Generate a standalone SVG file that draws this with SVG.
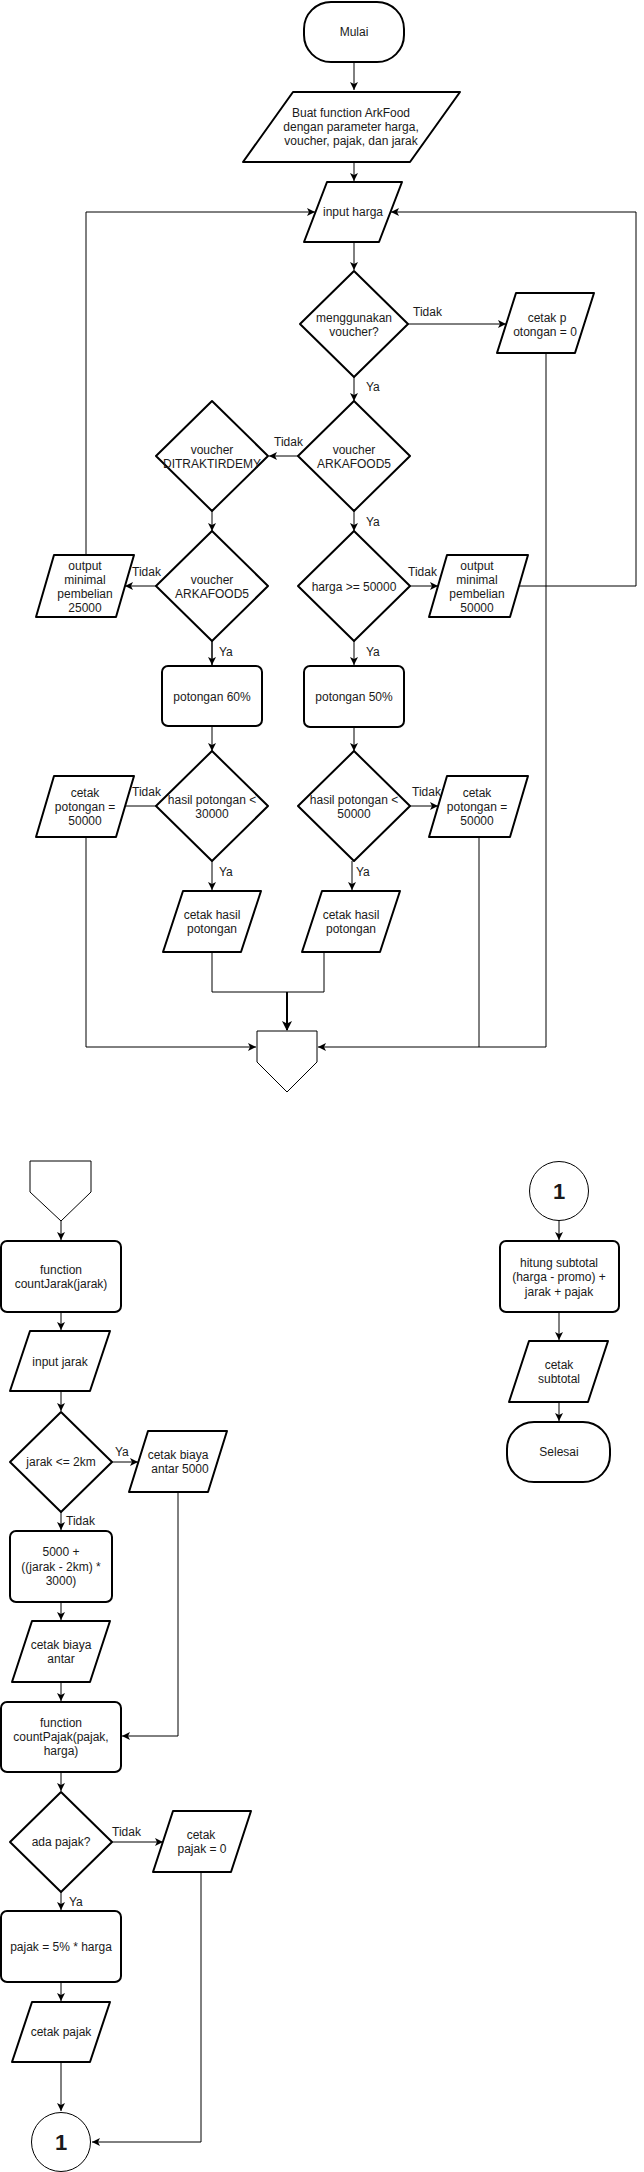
<svg xmlns="http://www.w3.org/2000/svg" width="644" height="2172" viewBox="0 0 644 2172">
<style>
.s{fill:#fff;stroke:#000;stroke-width:2;stroke-linejoin:round}
.t{fill:#fff;stroke:#000;stroke-width:1}
.c{fill:none;stroke:#000;stroke-width:1}
text{font-family:"Liberation Sans",Arial,sans-serif;font-size:12px;fill:#1a1a1a;text-anchor:middle}
.l{text-anchor:start}
.big{font-size:22px;font-weight:bold}
</style>
<defs>
<marker id="a" markerUnits="userSpaceOnUse" markerWidth="10" markerHeight="10" refX="8" refY="4" orient="auto"><path d="M0,0 L8,4 L0,8 L2,4 z" fill="#000"/></marker>
<marker id="b" markerUnits="userSpaceOnUse" markerWidth="12" markerHeight="12" refX="9" refY="5" orient="auto"><path d="M0,0 L10,5 L0,10 L2.5,5 z" fill="#000"/></marker>
</defs>
<g id="connectors">
<path class="c" d="M354,62 V90" marker-end="url(#a)"/>
<path class="c" d="M354,162 V181" marker-end="url(#a)"/>
<path class="c" d="M354,242 V270" marker-end="url(#a)"/>
<path class="c" d="M408,324 H506" marker-end="url(#a)"/>
<path class="c" d="M354,377 V401" marker-end="url(#a)"/>
<path class="c" d="M298,456 H269" marker-end="url(#a)"/>
<path class="c" d="M212,511 V531" marker-end="url(#a)"/>
<path class="c" d="M354,511 V531" marker-end="url(#a)"/>
<path class="c" d="M156,586 H125" marker-end="url(#a)"/>
<path class="c" d="M410,586 H438" marker-end="url(#a)"/>
<path class="c" d="M86,555 V212 H315" marker-end="url(#a)"/>
<path class="c" d="M519,586 H636 V212 H391" marker-end="url(#a)"/>
<path class="c" d="M212,641 V665" marker-end="url(#a)" style="stroke-width:1.5"/>
<path class="c" d="M354,641 V665" marker-end="url(#a)"/>
<path class="c" d="M212,726 V751" marker-end="url(#a)"/>
<path class="c" d="M354,727 V751" marker-end="url(#a)"/>
<path class="c" d="M156,806 H125"/>
<path class="c" d="M410,806 H438" marker-end="url(#a)"/>
<path class="c" d="M212,861 V890" marker-end="url(#a)"/>
<path class="c" d="M352,861 V890" marker-end="url(#a)"/>
<path class="c" d="M212,952 V992 H324 V952"/>
<path class="c" d="M287,992 V1030" marker-end="url(#b)" style="stroke-width:2"/>
<path class="c" d="M86,837 V1047 H256" marker-end="url(#a)"/>
<path class="c" d="M546,353 V1047 H318" marker-end="url(#a)"/>
<path class="c" d="M479,837 V1047"/>
<path class="c" d="M61,1221 V1240" marker-end="url(#a)"/>
<path class="c" d="M61,1312 V1330" marker-end="url(#a)"/>
<path class="c" d="M61,1391 V1411" marker-end="url(#a)"/>
<path class="c" d="M112,1462 H138" marker-end="url(#a)"/>
<path class="c" d="M178,1492 V1736 H122" marker-end="url(#a)"/>
<path class="c" d="M61,1512 V1530" marker-end="url(#a)"/>
<path class="c" d="M61,1602 V1620" marker-end="url(#a)"/>
<path class="c" d="M61,1682 V1701" marker-end="url(#a)"/>
<path class="c" d="M61,1772 V1791" marker-end="url(#a)"/>
<path class="c" d="M112,1842 H163" marker-end="url(#a)"/>
<path class="c" d="M201,1872 V2142 H92" marker-end="url(#a)"/>
<path class="c" d="M61,1892 V1910" marker-end="url(#a)"/>
<path class="c" d="M61,1982 V2001" marker-end="url(#a)"/>
<path class="c" d="M61,2062 V2111" marker-end="url(#a)"/>
<path class="c" d="M559,1221 V1240" marker-end="url(#a)"/>
<path class="c" d="M559,1312 V1340" marker-end="url(#a)"/>
<path class="c" d="M559,1402 V1421" marker-end="url(#a)"/>
<text class="l" x="413" y="316">Tidak</text>
<text class="l" x="366" y="391">Ya</text>
<text class="l" x="274" y="446">Tidak</text>
<text class="l" x="366" y="526">Ya</text>
<text class="l" x="132" y="576">Tidak</text>
<text class="l" x="408" y="576">Tidak</text>
<text class="l" x="219" y="656">Ya</text>
<text class="l" x="366" y="656">Ya</text>
<text class="l" x="132" y="796">Tidak</text>
<text class="l" x="412" y="796">Tidak</text>
<text class="l" x="219" y="876">Ya</text>
<text class="l" x="356" y="876">Ya</text>
<text class="l" x="115" y="1456">Ya</text>
<text class="l" x="66" y="1525">Tidak</text>
<text class="l" x="112" y="1836">Tidak</text>
<text class="l" x="69" y="1906">Ya</text>
</g>
<g id="mulai"><rect class="s" x="304" y="2" width="100" height="60" rx="27"/><text x="354" y="36">Mulai</text></g>
<g id="buat"><polygon class="s" points="293,92 460,92 410,162 243,162"/><text x="351" y="117">Buat function ArkFood</text><text x="351" y="131">dengan parameter harga,</text><text x="351" y="145">voucher, pajak, dan jarak</text></g>
<g id="input-harga"><polygon class="s" points="327,182 402,182 379,242 304,242"/><text x="353" y="216">input harga</text></g>
<g id="menggunakan"><polygon class="s" points="354,271 408,324 354,377 300,324"/><text x="354" y="322">menggunakan</text><text x="354" y="336">voucher?</text></g>
<g id="cetak-p"><polygon class="s" points="516,293 594,293 575,353 497,353"/><text x="547" y="322">cetak p</text><text x="545" y="336">otongan = 0</text></g>
<g id="arkafood5-a"><polygon class="s" points="354,401 410,456 354,511 298,456"/><text x="354" y="454">voucher</text><text x="354" y="468">ARKAFOOD5</text></g>
<g id="ditraktirdemy"><polygon class="s" points="212,401 268,456 212,511 156,456"/><text x="212" y="454">voucher</text><text x="212" y="468">DITRAKTIRDEMY</text></g>
<g id="arkafood5-b"><polygon class="s" points="212,531 268,586 212,641 156,586"/><text x="212" y="584">voucher</text><text x="212" y="598">ARKAFOOD5</text></g>
<g id="harga50000"><polygon class="s" points="354,531 410,586 354,641 298,586"/><text x="354" y="591">harga &gt;= 50000</text></g>
<g id="output25000"><polygon class="s" points="54,555 134,555 116,617 36,617"/><text x="85" y="570">output</text><text x="85" y="584">minimal</text><text x="85" y="598">pembelian</text><text x="85" y="612">25000</text></g>
<g id="output50000"><polygon class="s" points="447,555 528,555 510,617 429,617"/><text x="477" y="570">output</text><text x="477" y="584">minimal</text><text x="477" y="598">pembelian</text><text x="477" y="612">50000</text></g>
<g id="potongan60"><rect class="s" x="162" y="666" width="100" height="60" rx="6"/><text x="212" y="701">potongan 60%</text></g>
<g id="potongan50"><rect class="s" x="304" y="666" width="100" height="61" rx="6"/><text x="354" y="701">potongan 50%</text></g>
<g id="hasil30000"><polygon class="s" points="212,751 268,806 212,861 156,806"/><text x="212" y="804">hasil potongan &lt;</text><text x="212" y="818">30000</text></g>
<g id="hasil50000"><polygon class="s" points="354,751 410,806 354,861 298,806"/><text x="354" y="804">hasil potongan &lt;</text><text x="354" y="818">50000</text></g>
<g id="cetak-pot-left"><polygon class="s" points="54,776 134,776 116,837 36,837"/><text x="85" y="797">cetak</text><text x="85" y="811">potongan =</text><text x="85" y="825">50000</text></g>
<g id="cetak-pot-right"><polygon class="s" points="447,776 528,776 510,837 429,837"/><text x="477" y="797">cetak</text><text x="477" y="811">potongan =</text><text x="477" y="825">50000</text></g>
<g id="cetak-hasil-left"><polygon class="s" points="183,891 261,891 241,952 163,952"/><text x="212" y="919">cetak hasil</text><text x="212" y="933">potongan</text></g>
<g id="cetak-hasil-right"><polygon class="s" points="322,891 400,891 380,952 302,952"/><text x="351" y="919">cetak hasil</text><text x="351" y="933">potongan</text></g>
<g id="offpage-a"><polygon class="t" points="257,1031 317,1031 317,1062 287,1092 257,1062"/></g>
<g id="offpage-b"><polygon class="t" points="30,1161 91,1161 91,1192 61,1221 30,1192"/></g>
<g id="countjarak"><rect class="s" x="1" y="1241" width="120" height="71" rx="6"/><text x="61" y="1274">function</text><text x="61" y="1288">countJarak(jarak)</text></g>
<g id="input-jarak"><polygon class="s" points="30,1331 110,1331 90,1391 10,1391"/><text x="60" y="1366">input jarak</text></g>
<g id="jarak2km"><polygon class="s" points="61,1412 112,1462 61,1512 10,1462"/><text x="61" y="1466">jarak &lt;= 2km</text></g>
<g id="biaya5000"><polygon class="s" points="148,1431 227,1431 208,1492 129,1492"/><text x="178" y="1459">cetak biaya</text><text x="180" y="1473">antar 5000</text></g>
<g id="hitung-jarak"><rect class="s" x="10" y="1531" width="102" height="71" rx="6"/><text x="61" y="1556">5000 +</text><text x="61" y="1571">((jarak - 2km) *</text><text x="61" y="1585">3000)</text></g>
<g id="cetak-biaya"><polygon class="s" points="32,1621 110,1621 90,1682 12,1682"/><text x="61" y="1649">cetak biaya</text><text x="61" y="1663">antar</text></g>
<g id="countpajak"><rect class="s" x="1" y="1702" width="120" height="70" rx="6"/><text x="61" y="1727">function</text><text x="61" y="1741">countPajak(pajak,</text><text x="61" y="1755">harga)</text></g>
<g id="adapajak"><polygon class="s" points="61,1792 112,1842 61,1892 10,1842"/><text x="61" y="1846">ada pajak?</text></g>
<g id="pajak0"><polygon class="s" points="173,1811 251,1811 231,1872 153,1872"/><text x="201" y="1839">cetak</text><text x="202" y="1853">pajak = 0</text></g>
<g id="pajak5"><rect class="s" x="1" y="1911" width="120" height="71" rx="6"/><text x="61" y="1951">pajak = 5% * harga</text></g>
<g id="cetak-pajak"><polygon class="s" points="32,2002 110,2002 90,2062 12,2062"/><text x="61" y="2036">cetak pajak</text></g>
<g id="conn1-bottom"><circle class="t" cx="61" cy="2142" r="29.5"/><text class="big" x="61" y="2150">1</text></g>
<g id="conn1-top"><circle class="t" cx="559" cy="1191" r="29.5"/><text class="big" x="559" y="1199">1</text></g>
<g id="hitung-subtotal"><rect class="s" x="500" y="1241" width="119" height="71" rx="6"/><text x="559" y="1267">hitung subtotal</text><text x="559" y="1281">(harga - promo) +</text><text x="559" y="1296">jarak + pajak</text></g>
<g id="cetak-subtotal"><polygon class="s" points="529,1341 608,1341 588,1402 509,1402"/><text x="559" y="1369">cetak</text><text x="559" y="1383">subtotal</text></g>
<g id="selesai"><rect class="s" x="507" y="1422" width="103" height="60" rx="27"/><text x="559" y="1456">Selesai</text></g>
</svg>
